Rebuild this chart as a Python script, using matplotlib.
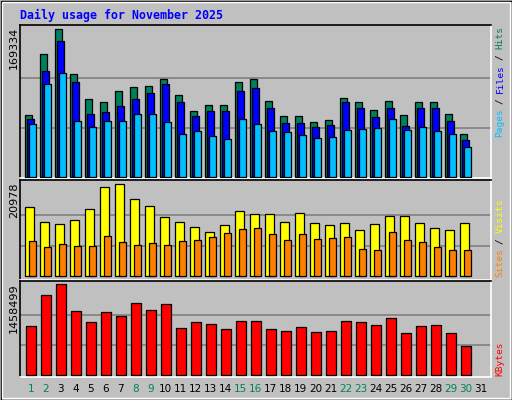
import matplotlib
matplotlib.use("Agg")
import matplotlib.pyplot as plt
from matplotlib.patches import Rectangle
import numpy as np

days = list(range(1, 32))
weekend = [1, 2, 8, 9, 15, 16, 22, 23, 29, 30]
hits = [(530 - y) / 442 * 169334 for y in [346,163,88,223,298,307,274,262,259,238,286,334,316,316,247,238,304,349,349,367,361,295,307,331,304,346,307,307,343,403]]
files = [(530 - y) / 442 * 169334 for y in [358,214,124,247,343,337,319,298,280,253,307,349,334,334,274,265,325,370,370,382,376,307,325,352,325,379,325,325,364,421]]
pages = [(530 - y) / 442 * 169334 for y in [373,253,220,364,382,364,364,343,343,367,403,394,409,418,358,373,394,397,406,415,412,391,388,385,358,391,382,394,403,442]]
visits = [(304 - y) / 276 * 20978 for y in [97,142,148,136,103,37,28,73,94,127,142,157,172,151,109,118,118,142,115,145,151,145,166,148,124,124,145,160,166,145]]
sites = [(304 - y) / 276 * 20978 for y in [199,217,208,214,214,184,202,211,205,211,199,196,187,175,163,160,178,196,178,193,190,187,223,226,172,196,202,217,226,226]]
kbytes = [(601 - y) / 273 * 1458499 for y in [454,361,328,409,442,412,424,385,406,388,460,442,448,463,439,439,463,469,457,472,469,439,442,451,430,475,454,451,475,514]]
hits = [round(v) for v in hits]; files = [round(v) for v in files]; pages = [round(v) for v in pages]
visits = [round(v) for v in visits]; sites = [round(v) for v in sites]; kbytes = [round(v) for v in kbytes]

W, H = 512, 400
fig = plt.figure(figsize=(W/100, H/100), dpi=100, facecolor="#c0c0c0")

def ax_px(x0, y0, x1, y1):
    return fig.add_axes([x0/W, 1 - y1/H, (x1-x0)/W, (y1-y0)/H])

fig.patches.append(Rectangle((0.5/W, 0.5/H), 1-1/W, 1-1/H, transform=fig.transFigure, fill=False, ec="black", lw=1))
fig.patches.append(Rectangle((2/W, 2/H), 1-4/W, 1-4/H, transform=fig.transFigure, fill=False, ec="white", lw=1))

xl = (0.647, 32.05)
d = np.array(days[:30])
pw = 1/15.0

def style(ax):
    ax.set_facecolor("#c0c0c0")
    ax.set_xlim(*xl)
    ax.set_xticks([]); ax.set_yticks([])
    for s in ["top", "left"]:
        ax.spines[s].set_color("black")
    for s in ["bottom", "right"]:
        ax.spines[s].set_color("white")
    for s in ax.spines.values():
        s.set_linewidth(1.2)

kw = dict(align="edge", edgecolor="black", linewidth=0.9, zorder=3)

ax1 = ax_px(20, 25, 491, 178)
style(ax1)
ax1.set_ylim(-1500, 174300)
for g in (169334/3, 2*169334/3):
    ax1.axhline(g, color="#808080", lw=1.2, zorder=1)
ax1.bar(d, hits, width=7*pw, color="#00805c", **kw)
ax1.bar(d + 2*pw, files, width=7*pw, color="#0000ff", **kw)
ax1.bar(d + 4*pw, pages, width=7*pw, color="#00c0ff", **kw)

ax2 = ax_px(20, 180, 491, 279.5)
style(ax2)
ax2.set_ylim(-730, 21960)
for g in (20978/3, 2*20978/3):
    ax2.axhline(g, color="#808080", lw=1.2, zorder=1)
ax2.bar(d, visits, width=9*pw, color="#ffff00", **kw)
ax2.bar(d + 3.7*pw, sites, width=7.3*pw, color="#ff8000", **kw)

ax3 = ax_px(20, 280.7, 491, 377)
style(ax3)
ax3.set_ylim(-27000, 1516000)
for g in (1458499/3, 2*1458499/3):
    ax3.axhline(g, color="#808080", lw=1.2, zorder=1)
ax3.bar(d + 1*pw, kbytes, width=10*pw, color="#ff0000", **kw)

mono = "DejaVu Sans Mono"
fig.text(20/W, 1 - 15/H, "Daily usage for November 2025", color="#0000ff", fontsize=8.4,
         fontweight="bold", family=mono, va="center", ha="left")

for y, lab in [(27, "169334"), (182, "20978"), (283, "1458499")]:
    fig.text(14/W, 1 - y/H, lab, rotation=90, fontsize=8, family="DejaVu Sans",
             va="top", ha="center", color="black")

CH = 5.5
def vlegend(parts, ybottom):
    y = ybottom
    for txt, col in parts:
        fig.text(500/W, 1 - y/H, txt, rotation=90, fontsize=6.8, family=mono,
                 color=col, va="bottom", ha="center")
        y -= (len(txt) + 1) * CH
vlegend([("Pages", "#00c0ff"), ("/", "#000000"), ("Files", "#0000ff"), ("/", "#000000"), ("Hits", "#00805c")], 137)
vlegend([("Sites", "#ff8000"), ("/", "#000000"), ("Visits", "#ffff00")], 277)
vlegend([("KBytes", "#ff0000")], 376)

for i in days:
    x = 20 + (i - xl[0]) * 15 + 5.5
    col = "#008060" if i in weekend else "black"
    fig.text(x/W, 1 - 389/H, str(i), fontsize=7.5, family="DejaVu Sans", color=col,
             ha="center", va="center")

fig.savefig("out.png", dpi=100, facecolor=fig.get_facecolor())
